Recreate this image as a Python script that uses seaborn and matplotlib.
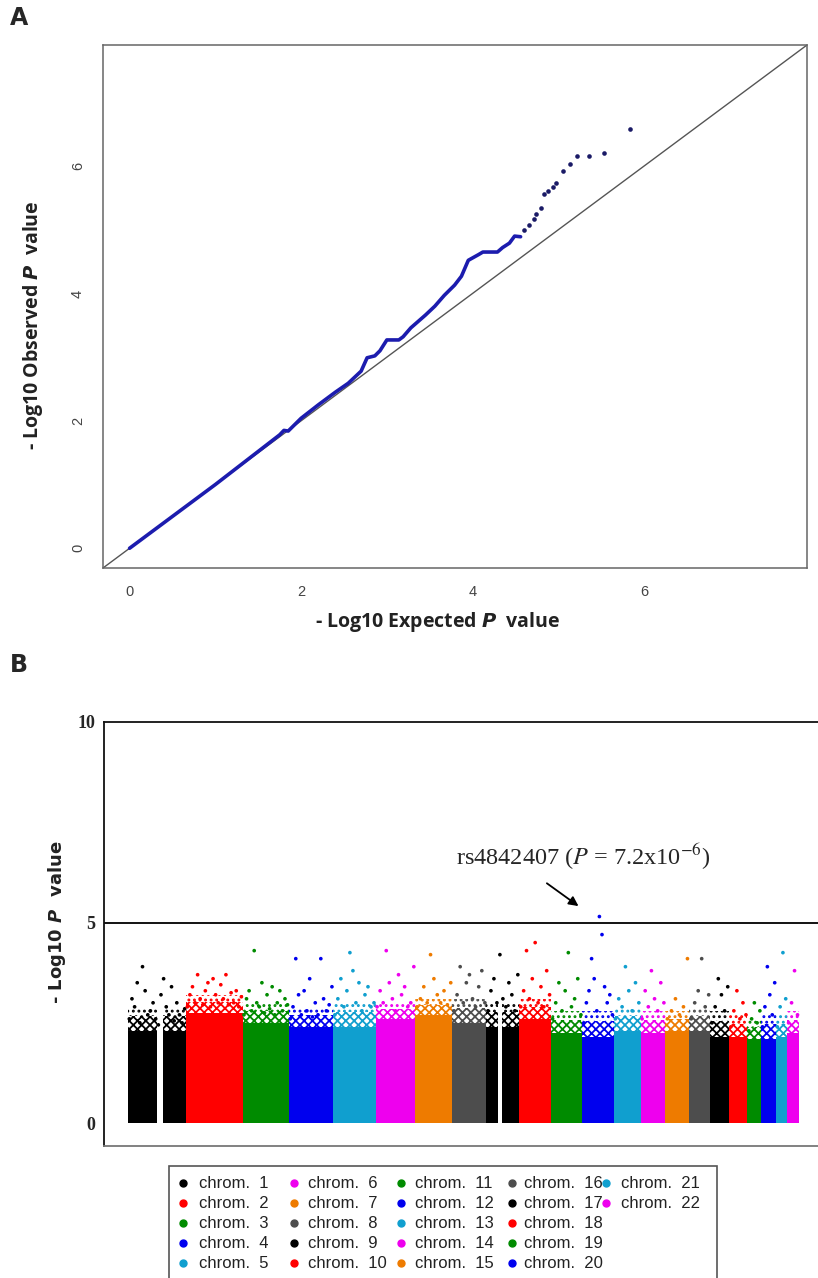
import numpy as np
import pandas as pd
import matplotlib
matplotlib.use("Agg")
import matplotlib.pyplot as plt
from matplotlib.lines import Line2D
from matplotlib.patches import Rectangle
import seaborn as sns

# ---- panel A: QQ plot ----
qq_expected = [0, 0.5, 1.0, 1.5, 1.75, 1.8, 1.85, 2.0, 2.2, 2.4, 2.55, 2.7, 2.77, 2.86, 2.92,
               3.0, 3.14, 3.19, 3.28, 3.45, 3.56, 3.67, 3.79, 3.87, 3.95, 4.07, 4.12, 4.29,
               4.35, 4.43, 4.49, 4.56]
qq_observed = [0, 0.5, 1.0, 1.52, 1.78, 1.85, 1.84, 2.04, 2.25, 2.45, 2.59, 2.78, 2.99, 3.02, 3.1,
               3.27, 3.27, 3.32, 3.46, 3.66, 3.8, 3.97, 4.13, 4.27, 4.52, 4.61, 4.65, 4.65,
               4.72, 4.79, 4.90, 4.89]
tail_expected = [4.60, 4.66, 4.72, 4.74, 4.80, 4.83, 4.88, 4.94, 4.97, 5.05, 5.14, 5.22, 5.36, 5.53, 5.84]
tail_observed = [5.0, 5.08, 5.17, 5.25, 5.34, 5.56, 5.61, 5.67, 5.73, 5.92, 6.03, 6.15, 6.16, 6.21, 6.58]

# ---- panel B: Manhattan plot ----
chroms = list(range(1, 23))
chrom_len = [249, 243, 198, 191, 181, 171, 159, 146, 141, 136, 135, 134,
             115, 107, 103, 90, 81, 78, 59, 63, 48, 51]
chrom_colors = ["#000000", "#ff0000", "#008b00", "#0000ee", "#109fcf", "#ee00ee", "#ee7b00", "#4d4d4d",
                "#000000", "#ff0000", "#008b00", "#0000ee", "#109fcf", "#ee00ee", "#ee7b00", "#4d4d4d",
                "#000000", "#ff0000", "#008b00", "#0000ee", "#109fcf", "#ee00ee"]
# height of the solid block and of the speckled band above it
solid_top = [2.3, 2.75, 2.5, 2.4, 2.4, 2.6, 2.7, 2.5, 2.4, 2.6, 2.25, 2.15,
             2.3, 2.25, 2.3, 2.3, 2.15, 2.15, 2.1, 2.1, 2.15, 2.25]
band_top = [2.9, 3.2, 3.0, 2.9, 3.0, 3.0, 3.1, 3.1, 3.0, 3.1, 2.8, 2.8,
            2.9, 2.8, 2.8, 2.9, 2.8, 2.7, 2.6, 2.7, 2.7, 2.8]
# centromere gaps (Mb within chromosome)
gaps = {1: (124, 150), 9: (51, 68)}
# scattered top SNPs per chromosome
top_snps = {
    1: [2.6, 3.1, 2.9, 3.5, 2.5, 3.9, 3.3, 2.7, 2.8, 3.0, 2.6, 2.45, 3.2, 3.6, 2.9, 2.7, 3.4, 2.55, 3.0, 2.7, 2.5, 2.85],
    2: [2.9, 3.2, 3.4, 3.0, 3.7, 3.1, 2.95, 3.3, 3.5, 2.9, 3.6, 3.2, 3.0, 3.45, 3.1, 3.7, 2.95, 3.25, 3.0, 3.3, 2.9, 3.15],
    3: [2.7, 3.1, 3.3, 2.8, 4.3, 3.0, 2.9, 3.5, 2.75, 3.2, 2.85, 3.4, 2.7, 3.0, 3.3, 2.8, 3.1, 2.95],
    4: [2.6, 2.9, 4.1, 3.2, 2.7, 3.3, 2.8, 3.6, 2.65, 3.0, 2.7, 4.1, 3.1, 2.8, 2.95, 3.4],
    5: [2.7, 3.1, 3.6, 2.9, 3.3, 4.25, 3.8, 3.0, 3.5, 2.8, 3.2, 3.4, 2.9, 3.0],
    6: [2.9, 3.3, 3.0, 4.3, 3.5, 3.1, 2.8, 3.7, 3.2, 3.4, 2.9, 3.0, 3.9],
    7: [2.9, 3.1, 3.4, 3.0, 4.2, 3.6, 3.2, 3.0, 3.3, 2.95, 3.5],
    8: [2.8, 3.2, 3.9, 3.0, 3.5, 3.7, 3.1, 2.9, 3.4, 3.8, 3.0],
    9: [2.8, 3.3, 3.6, 3.0, 4.2, 3.1, 2.9, 3.5, 3.2, 2.8, 3.7],
    10: [2.9, 3.3, 4.3, 3.1, 3.6, 4.5, 3.0, 3.4, 2.9, 3.8, 3.2],
    11: [2.6, 3.0, 3.5, 2.8, 3.3, 4.25, 2.9, 3.1, 3.6, 2.7],
    12: [2.5, 3.0, 3.3, 4.1, 3.6, 2.8, 5.15, 4.7, 3.4, 3.0, 3.2, 2.7],
    13: [2.6, 3.1, 2.9, 3.9, 3.3, 2.8, 3.5, 3.0],
    14: [2.6, 3.3, 2.9, 3.8, 3.1, 2.8, 3.5, 3.0],
    15: [2.6, 2.8, 3.1, 2.7, 2.9, 4.1],
    16: [2.6, 3.0, 3.3, 4.1, 2.9, 3.2],
    17: [2.5, 2.9, 3.6, 3.2, 2.8, 3.4],
    18: [2.4, 2.8, 3.3, 2.6, 3.0, 2.7],
    19: [2.3, 2.6, 3.0, 2.5, 2.8],
    20: [2.4, 2.9, 3.9, 3.2, 2.7, 3.5],
    21: [2.4, 2.9, 4.25, 3.1],
    22: [2.5, 3.0, 3.8, 2.7],
}
peak_label = "rs4842407 ($P$ = 7.2x10$^{-6}$)"
peak_chrom, peak_index = 12, 6
threshold = 5

sns.set_style("white")
plt.rcParams["font.family"] = ["Liberation Sans", "DejaVu Sans"]
plt.rcParams["hatch.linewidth"] = 1.3

fig = plt.figure(figsize=(8.18, 12.78), dpi=100)
W, H = 818, 1278

# ================= panel A =================
ax1 = fig.add_axes([103 / W, 1 - 568 / H, (807 - 103) / W, (568 - 45) / H])
lims = (-0.31, 7.9)
ax1.plot(lims, lims, color="#555555", lw=1)
sns.lineplot(x=qq_expected, y=qq_observed, color="#1c1cae", lw=2.6, ax=ax1, sort=False)
sns.scatterplot(x=tail_expected, y=tail_observed, color="#1a1a66", s=11, linewidth=0, ax=ax1)
ax1.set_xlim(lims)
ax1.set_ylim(lims)
ax1.set_xticks([0, 2, 4, 6])
ax1.set_yticks([0, 2, 4, 6])
ax1.tick_params(axis="both", length=6, width=1, color="#666666", labelcolor="#444444",
                labelsize=10.5, direction="out", pad=6)
ax1.tick_params(axis="y", labelrotation=90, pad=7)
for lab in ax1.get_yticklabels():
    lab.set_va("center")
for s in ax1.spines.values():
    s.set_color("#666666")
    s.set_linewidth(1.1)
ax1.set_xlabel(r"- Log10 Expected $\mathbfit{P}$  value", fontsize=14, fontweight="bold",
               family="Open Sans", color="#222222")
ax1.set_ylabel(r"- Log10 Observed $\mathbfit{P}$  value", fontsize=14, fontweight="bold",
               family="Open Sans", color="#222222")
ax1.xaxis.set_label_coords((438 - 103) / 704, -(610 - 568) / 523)
ax1.yaxis.set_label_coords(-(103 - 45) / 704, (568 - 325) / 523)

fig.text(10 / W, 1 - 18 / H, "A", fontsize=17, fontweight="bold",
         family=["Liberation Sans Narrow", "DejaVu Sans"], va="center", ha="left")
fig.text(10 / W, 1 - 665 / H, "B", fontsize=17, fontweight="bold",
         family=["Liberation Sans Narrow", "DejaVu Sans"], va="center", ha="left")

# ================= panel B =================
ax2 = fig.add_axes([104 / W, 1 - 1146 / H, (830 - 104) / W, (1146 - 722) / H])
starts = np.concatenate([[0], np.cumsum(chrom_len[:-1])])

rows = []
for i, c in enumerate(chroms):
    st, ln, col = starts[i], chrom_len[i], chrom_colors[i]
    if c in gaps:
        g0, g1 = gaps[c]
        segs = [(st, g0), (st + g1, ln - g1)]
    else:
        segs = [(st, ln)]
    # speckled band: dense lower part, thinner upper part
    mid = solid_top[i] + 0.6 * (band_top[i] - solid_top[i])
    for x0, w in segs:
        ax2.bar(x0, solid_top[i], width=w, align="edge", color=col, linewidth=0)
        ax2.bar(x0, mid - solid_top[i], bottom=solid_top[i], width=w, align="edge",
                facecolor="none", edgecolor=col, hatch="xxxx", linewidth=0)
        ax2.bar(x0, band_top[i] - mid, bottom=mid, width=w, align="edge",
                facecolor="none", edgecolor=col, hatch="...", linewidth=0)
    vals = top_snps[c]
    n = len(vals)
    for k, v in enumerate(vals):
        rows.append({"chrom": c, "pos": st + (k + 0.5) / n * ln, "logp": v})

snps = pd.DataFrame(rows)
sns.scatterplot(data=snps, x="pos", y="logp", hue="chrom", palette=chrom_colors,
                s=7, linewidth=0, legend=False, ax=ax2)

ax2.axhline(threshold, color="black", lw=1.3)
px_per_mb = 671 / sum(chrom_len)
ax2.set_xlim(-24 / px_per_mb, (830 - 128) / px_per_mb)
ax2.set_ylim(-0.57, 10)
ax2.set_xticks([])
ax2.set_yticks([0, 5, 10])
ax2.set_yticklabels(["0", "5", "10"], family=["Liberation Serif", "DejaVu Serif"],
                    fontweight="bold", fontsize=13)
ax2.tick_params(axis="y", length=5, width=1, color="#333333", pad=1)
ax2.spines["right"].set_visible(False)
for s in ["left", "top", "bottom"]:
    ax2.spines[s].set_color("#111111")
    ax2.spines[s].set_linewidth(1.3)
ax2.spines["bottom"].set_color("#777777")
ax2.set_xlabel("")
ax2.set_ylabel(r"- Log10 $\mathbfit{P}$  value", fontsize=13, fontweight="bold",
               family="DejaVu Sans", color="#222222")
ax2.yaxis.set_label_coords(-(104 - 68) / 726, (1146 - 922) / 424)

# annotation of the top SNP
peak_vals = top_snps[peak_chrom]
pk = chroms.index(peak_chrom)
peak_x = starts[pk] + (peak_index + 0.5) / len(peak_vals) * chrom_len[pk]
peak_y = peak_vals[peak_index]
ax2.annotate("", xy=(peak_x - 80, peak_y + 0.22), xytext=(peak_x - 235, peak_y + 0.87),
             arrowprops=dict(arrowstyle="-|>", color="black", lw=1.3, mutation_scale=14))
ax2.text(peak_x - 70, peak_y + 1.5, peak_label, ha="center", va="center", fontsize=17.5,
         family=["Liberation Serif", "DejaVu Serif"], math_fontfamily="stix")

# legend drawn by hand, R style (5 rows per column)
leg_marker_x = [183, 294, 401, 512, 606]
leg_text_x = [199, 308, 415, 524, 621]
leg_row_y = [1183, 1203, 1223, 1243, 1263]
fig.add_artist(Rectangle((169 / W, 1 - 1300 / H), (717 - 169) / W, (1300 - 1166) / H,
                         transform=fig.transFigure, facecolor="white", edgecolor="#555555",
                         linewidth=1.2))
for i, c in enumerate(chroms):
    cx, ry = i // 5, i % 5
    yy = 1 - leg_row_y[ry] / H
    fig.add_artist(Line2D([leg_marker_x[cx] / W], [yy], transform=fig.transFigure,
                          marker="o", ls="", color=chrom_colors[i], markersize=5))
    fig.text(leg_text_x[cx] / W, yy, f"chrom.  {c}", fontsize=12, color="#222222",
             va="center", ha="left", family=["Liberation Sans", "DejaVu Sans"])

fig.savefig("out.png", dpi=100)
